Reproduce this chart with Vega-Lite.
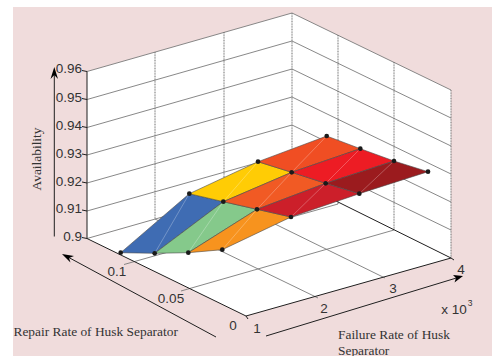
{
"$schema":"https://vega.github.io/schema/vega-lite/v6.json",
"width":492,"height":356,"padding":0,"autosize":{"type":"none"},
"background":"white",
"view":{"stroke":null},
"datasets":{
"shapes":[
{"id":"bg","ord":1,"u":13,"v":7,"c":"#F0DCDC"},{"id":"bg","ord":2,"u":492,"v":7,"c":"#F0DCDC"},{"id":"bg","ord":3,"u":492,"v":356,"c":"#F0DCDC"},{"id":"bg","ord":4,"u":13,"v":356,"c":"#F0DCDC"},
{"id":"wallL","ord":1,"u":87,"v":71.5,"c":"#FFFFFF"},{"id":"wallL","ord":2,"u":292,"v":13,"c":"#FFFFFF"},{"id":"wallL","ord":3,"u":292,"v":180,"c":"#FFFFFF"},{"id":"wallL","ord":4,"u":87,"v":238.5,"c":"#FFFFFF"},
{"id":"wallR","ord":1,"u":292,"v":13,"c":"#FFFFFF"},{"id":"wallR","ord":2,"u":451,"v":90,"c":"#FFFFFF"},{"id":"wallR","ord":3,"u":451,"v":258,"c":"#FFFFFF"},{"id":"wallR","ord":4,"u":292,"v":180,"c":"#FFFFFF"},
{"id":"floor","ord":1,"u":87,"v":238.5,"c":"#FFFFFF"},{"id":"floor","ord":2,"u":246,"v":316,"c":"#FFFFFF"},{"id":"floor","ord":3,"u":451,"v":258,"c":"#FFFFFF"},{"id":"floor","ord":4,"u":292,"v":180,"c":"#FFFFFF"}
],
"grid":[
{"id":"l0","ord":1,"u":87,"v":71.5},{"id":"l0","ord":2,"u":292,"v":13},
{"id":"l1","ord":1,"u":87,"v":99.5},{"id":"l1","ord":2,"u":292,"v":41},
{"id":"l2","ord":1,"u":87,"v":127.5},{"id":"l2","ord":2,"u":292,"v":69},
{"id":"l3","ord":1,"u":87,"v":155},{"id":"l3","ord":2,"u":292,"v":97},
{"id":"l4","ord":1,"u":87,"v":183},{"id":"l4","ord":2,"u":292,"v":125},
{"id":"l5","ord":1,"u":87,"v":211},{"id":"l5","ord":2,"u":292,"v":153},
{"id":"l6","ord":1,"u":87,"v":238.5},{"id":"l6","ord":2,"u":292,"v":180},
{"id":"r0","ord":1,"u":292,"v":13},{"id":"r0","ord":2,"u":451,"v":90},
{"id":"r1","ord":1,"u":292,"v":41},{"id":"r1","ord":2,"u":451,"v":118},
{"id":"r2","ord":1,"u":292,"v":69},{"id":"r2","ord":2,"u":451,"v":146},
{"id":"r3","ord":1,"u":292,"v":97},{"id":"r3","ord":2,"u":451,"v":174},
{"id":"r4","ord":1,"u":292,"v":125},{"id":"r4","ord":2,"u":451,"v":202},
{"id":"r5","ord":1,"u":292,"v":153},{"id":"r5","ord":2,"u":451,"v":230},
{"id":"f1","ord":1,"u":124,"v":264.5},{"id":"f1","ord":2,"u":338,"v":204},
{"id":"f2","ord":1,"u":181,"v":291},{"id":"f2","ord":2,"u":394,"v":230},
{"id":"f3","ord":1,"u":318,"v":298},{"id":"f3","ord":2,"u":155,"v":219},
{"id":"f4","ord":1,"u":385,"v":278},{"id":"f4","ord":2,"u":224,"v":199}
],
"verts":[
{"id":"v1","ord":1,"u":155,"v":52},{"id":"v1","ord":2,"u":155,"v":219},
{"id":"v2","ord":1,"u":224,"v":32},{"id":"v2","ord":2,"u":224,"v":199},
{"id":"v3","ord":1,"u":292,"v":13},{"id":"v3","ord":2,"u":292,"v":180},
{"id":"v4","ord":1,"u":338,"v":35},{"id":"v4","ord":2,"u":338,"v":204},
{"id":"v5","ord":1,"u":394,"v":62},{"id":"v5","ord":2,"u":394,"v":230},
{"id":"v6","ord":1,"u":451,"v":90},{"id":"v6","ord":2,"u":451,"v":258}
],
"axes":[
{"id":"a1","ord":1,"u":87,"v":71.5},{"id":"a1","ord":2,"u":87,"v":238.5},{"id":"a1","ord":3,"u":246,"v":316},{"id":"a1","ord":4,"u":451,"v":258},
{"id":"a2","ord":1,"u":336,"v":201},{"id":"a2","ord":2,"u":451,"v":258},
{"id":"t1","ord":1,"u":246,"v":316},{"id":"t1","ord":2,"u":248,"v":319},
{"id":"t2","ord":1,"u":451,"v":258},{"id":"t2","ord":2,"u":454,"v":260},
{"id":"t3","ord":1,"u":82,"v":70.5},{"id":"t3","ord":2,"u":87,"v":71.5},
{"id":"t4","ord":1,"u":82,"v":98.5},{"id":"t4","ord":2,"u":87,"v":99.5},
{"id":"t5","ord":1,"u":82,"v":126.5},{"id":"t5","ord":2,"u":87,"v":127.5},
{"id":"t6","ord":1,"u":82,"v":154},{"id":"t6","ord":2,"u":87,"v":155},
{"id":"t7","ord":1,"u":82,"v":182},{"id":"t7","ord":2,"u":87,"v":183},
{"id":"t8","ord":1,"u":82,"v":210},{"id":"t8","ord":2,"u":87,"v":211},
{"id":"t9","ord":1,"u":82,"v":237.5},{"id":"t9","ord":2,"u":87,"v":238.5},
{"id":"arrowZ","ord":1,"u":54.3,"v":236.5},{"id":"arrowZ","ord":2,"u":54.3,"v":72},
{"id":"arrowR","ord":1,"u":216,"v":337},{"id":"arrowR","ord":2,"u":66,"v":256},
{"id":"arrowF","ord":1,"u":266,"v":336},{"id":"arrowF","ord":2,"u":458,"v":277.5}
],
"heads":[
{"id":"h1","ord":1,"u":54.3,"v":67},{"id":"h1","ord":2,"u":50.5,"v":79},{"id":"h1","ord":3,"u":54.3,"v":75},{"id":"h1","ord":4,"u":58,"v":79},
{"id":"h2","ord":1,"u":62,"v":254},{"id":"h2","ord":2,"u":74,"v":256},{"id":"h2","ord":3,"u":69,"v":258},{"id":"h2","ord":4,"u":70.5,"v":262.5},
{"id":"h3","ord":1,"u":463,"v":276},{"id":"h3","ord":2,"u":453,"v":275},{"id":"h3","ord":3,"u":456,"v":278},{"id":"h3","ord":4,"u":454.5,"v":282.5}
],
"quads":[
{"id":"q1","ord":1,"u":120.7,"v":252.7,"c":"#3F6CB3"},{"id":"q1","ord":2,"u":154.7,"v":253.3,"c":"#3F6CB3"},{"id":"q1","ord":3,"u":223.3,"v":201.7,"c":"#3F6CB3"},{"id":"q1","ord":4,"u":189.3,"v":193.7,"c":"#3F6CB3"},{"id":"q1","ord":5,"u":120.7,"v":252.7,"c":"#3F6CB3"},
{"id":"q2","ord":1,"u":154.7,"v":253.3,"c":"#85C98B"},{"id":"q2","ord":2,"u":188.3,"v":252.7,"c":"#85C98B"},{"id":"q2","ord":3,"u":257,"v":209.3,"c":"#85C98B"},{"id":"q2","ord":4,"u":223.3,"v":201.7,"c":"#85C98B"},{"id":"q2","ord":5,"u":154.7,"v":253.3,"c":"#85C98B"},
{"id":"q3","ord":1,"u":188.3,"v":252.7,"c":"#F7931E"},{"id":"q3","ord":2,"u":222.3,"v":249.7,"c":"#F7931E"},{"id":"q3","ord":3,"u":291,"v":217,"c":"#F7931E"},{"id":"q3","ord":4,"u":257,"v":209.3,"c":"#F7931E"},{"id":"q3","ord":5,"u":188.3,"v":252.7,"c":"#F7931E"},
{"id":"q4","ord":1,"u":189.3,"v":193.7,"c":"#FFCC05"},{"id":"q4","ord":2,"u":223.3,"v":201.7,"c":"#FFCC05"},{"id":"q4","ord":3,"u":291.7,"v":172.3,"c":"#FFCC05"},{"id":"q4","ord":4,"u":258,"v":161.7,"c":"#FFCC05"},{"id":"q4","ord":5,"u":189.3,"v":193.7,"c":"#FFCC05"},
{"id":"q5","ord":1,"u":223.3,"v":201.7,"c":"#F15A24"},{"id":"q5","ord":2,"u":257,"v":209.3,"c":"#F15A24"},{"id":"q5","ord":3,"u":325.7,"v":183.3,"c":"#F15A24"},{"id":"q5","ord":4,"u":291.7,"v":172.3,"c":"#F15A24"},{"id":"q5","ord":5,"u":223.3,"v":201.7,"c":"#F15A24"},
{"id":"q6","ord":1,"u":257,"v":209.3,"c":"#CC1F2A"},{"id":"q6","ord":2,"u":291,"v":217,"c":"#CC1F2A"},{"id":"q6","ord":3,"u":359.3,"v":193.7,"c":"#CC1F2A"},{"id":"q6","ord":4,"u":325.7,"v":183.3,"c":"#CC1F2A"},{"id":"q6","ord":5,"u":257,"v":209.3,"c":"#CC1F2A"},
{"id":"q7","ord":1,"u":258,"v":161.7,"c":"#F04E23"},{"id":"q7","ord":2,"u":291.7,"v":172.3,"c":"#F04E23"},{"id":"q7","ord":3,"u":360.3,"v":148.7,"c":"#F04E23"},{"id":"q7","ord":4,"u":326.7,"v":136,"c":"#F04E23"},{"id":"q7","ord":5,"u":258,"v":161.7,"c":"#F04E23"},
{"id":"q8","ord":1,"u":291.7,"v":172.3,"c":"#ED1C24"},{"id":"q8","ord":2,"u":325.7,"v":183.3,"c":"#ED1C24"},{"id":"q8","ord":3,"u":394,"v":161,"c":"#ED1C24"},{"id":"q8","ord":4,"u":360.3,"v":148.7,"c":"#ED1C24"},{"id":"q8","ord":5,"u":291.7,"v":172.3,"c":"#ED1C24"},
{"id":"q9","ord":1,"u":325.7,"v":183.3,"c":"#9B1B1E"},{"id":"q9","ord":2,"u":359.3,"v":193.7,"c":"#9B1B1E"},{"id":"q9","ord":3,"u":428,"v":171.7,"c":"#9B1B1E"},{"id":"q9","ord":4,"u":394,"v":161,"c":"#9B1B1E"},{"id":"q9","ord":5,"u":325.7,"v":183.3,"c":"#9B1B1E"}
],
"diags":[
{"id":"d1","ord":1,"u":154.7,"v":253.3},{"id":"d1","ord":2,"u":189.3,"v":193.7},
{"id":"d2","ord":1,"u":188.3,"v":252.7},{"id":"d2","ord":2,"u":223.3,"v":201.7},
{"id":"d3","ord":1,"u":222.3,"v":249.7},{"id":"d3","ord":2,"u":257,"v":209.3},
{"id":"d4","ord":1,"u":223.3,"v":201.7},{"id":"d4","ord":2,"u":258,"v":161.7},
{"id":"d5","ord":1,"u":257,"v":209.3},{"id":"d5","ord":2,"u":291.7,"v":172.3},
{"id":"d6","ord":1,"u":291,"v":217},{"id":"d6","ord":2,"u":325.7,"v":183.3},
{"id":"d7","ord":1,"u":291.7,"v":172.3},{"id":"d7","ord":2,"u":326.7,"v":136},
{"id":"d8","ord":1,"u":325.7,"v":183.3},{"id":"d8","ord":2,"u":360.3,"v":148.7},
{"id":"d9","ord":1,"u":359.3,"v":193.7},{"id":"d9","ord":2,"u":394,"v":161}
],
"pts":[
{"u":120.7,"v":252.7},{"u":154.7,"v":253.3},{"u":188.3,"v":252.7},{"u":222.3,"v":249.7},
{"u":189.3,"v":193.7},{"u":223.3,"v":201.7},{"u":257,"v":209.3},{"u":291,"v":217},
{"u":258,"v":161.7},{"u":291.7,"v":172.3},{"u":325.7,"v":183.3},{"u":359.3,"v":193.7},
{"u":326.7,"v":136},{"u":360.3,"v":148.7},{"u":394,"v":161},{"u":428,"v":171.7}
],
"ticks":[
{"u":82,"v":69,"t":"0.96"},{"u":82,"v":98,"t":"0.95"},{"u":82,"v":126,"t":"0.94"},{"u":82,"v":153.5,"t":"0.93"},{"u":82,"v":182,"t":"0.92"},{"u":82,"v":208.7,"t":"0.91"},{"u":82,"v":237,"t":"0.9"}
],
"ticks2":[
{"u":117,"v":272,"t":"0.1"},{"u":171,"v":299,"t":"0.05"},{"u":233,"v":326,"t":"0"},
{"u":257,"v":329,"t":"1"},{"u":324,"v":309,"t":"2"},{"u":393,"v":289,"t":"3"},{"u":461,"v":270,"t":"4"},
{"u":454,"v":310,"t":"x 10"}
],
"sup":[{"u":470,"v":303,"t":"3"}],
"titles":[
{"u":13.5,"v":332,"t":"Repair Rate of Husk Separator"},
{"u":338,"v":335,"t":"Failure Rate of Husk"},
{"u":338,"v":351,"t":"Separator"}
],
"ytitle":[{"u":37,"v":159,"t":"Availability"}]
},
"encoding":{
"x":{"field":"u","type":"quantitative","scale":{"domain":[0,492]},"axis":null},
"y":{"field":"v","type":"quantitative","scale":{"domain":[356,0]},"axis":null}
},
"layer":[
{"data":{"name":"shapes"},"mark":{"type":"line","strokeWidth":0,"clip":true},
 "encoding":{"detail":{"field":"id"},"order":{"field":"ord"},"fill":{"field":"c","type":"nominal","scale":null}}},
{"data":{"name":"grid"},"mark":{"type":"line","stroke":"#7a7a7a","strokeWidth":0.9},
 "encoding":{"detail":{"field":"id"},"order":{"field":"ord"}}},
{"data":{"name":"verts"},"mark":{"type":"line","stroke":"#707070","strokeWidth":1,"strokeDash":[1,0.6]},
 "encoding":{"detail":{"field":"id"},"order":{"field":"ord"}}},
{"data":{"name":"axes"},"mark":{"type":"line","stroke":"#1f1f1f","strokeWidth":1},
 "encoding":{"detail":{"field":"id"},"order":{"field":"ord"}}},
{"data":{"name":"heads"},"mark":{"type":"line","strokeWidth":0},
 "encoding":{"detail":{"field":"id"},"order":{"field":"ord"},"fill":{"datum":"black","scale":null}}},
{"data":{"name":"quads"},"mark":{"type":"line","stroke":"#4a4a4a","strokeWidth":0.6},
 "encoding":{"detail":{"field":"id"},"order":{"field":"ord"},"fill":{"field":"c","type":"nominal","scale":null}}},
{"data":{"name":"diags"},"mark":{"type":"line","stroke":"#FFFFFF","strokeOpacity":0.45,"strokeWidth":0.6},
 "encoding":{"detail":{"field":"id"},"order":{"field":"ord"}}},
{"data":{"name":"pts"},"mark":{"type":"circle","size":22,"color":"#1a1a1a","opacity":1}},
{"data":{"name":"ticks"},"mark":{"type":"text","align":"right","baseline":"middle","font":"Liberation Sans","fontSize":13.5,"color":"#333333"},"encoding":{"text":{"field":"t"}}},
{"data":{"name":"ticks2"},"mark":{"type":"text","align":"center","baseline":"middle","font":"Liberation Sans","fontSize":13.5,"color":"#333333"},"encoding":{"text":{"field":"t"}}},
{"data":{"name":"sup"},"mark":{"type":"text","align":"center","baseline":"middle","font":"Liberation Sans","fontSize":8.5,"color":"#333333"},"encoding":{"text":{"field":"t"}}},
{"data":{"name":"titles"},"mark":{"type":"text","align":"left","baseline":"middle","font":"Liberation Serif","fontSize":13.4,"color":"#333333"},"encoding":{"text":{"field":"t"}}},
{"data":{"name":"ytitle"},"mark":{"type":"text","align":"center","baseline":"middle","angle":270,"font":"Liberation Serif","fontSize":13.4,"color":"#333333"},"encoding":{"text":{"field":"t"}}}
]
}
